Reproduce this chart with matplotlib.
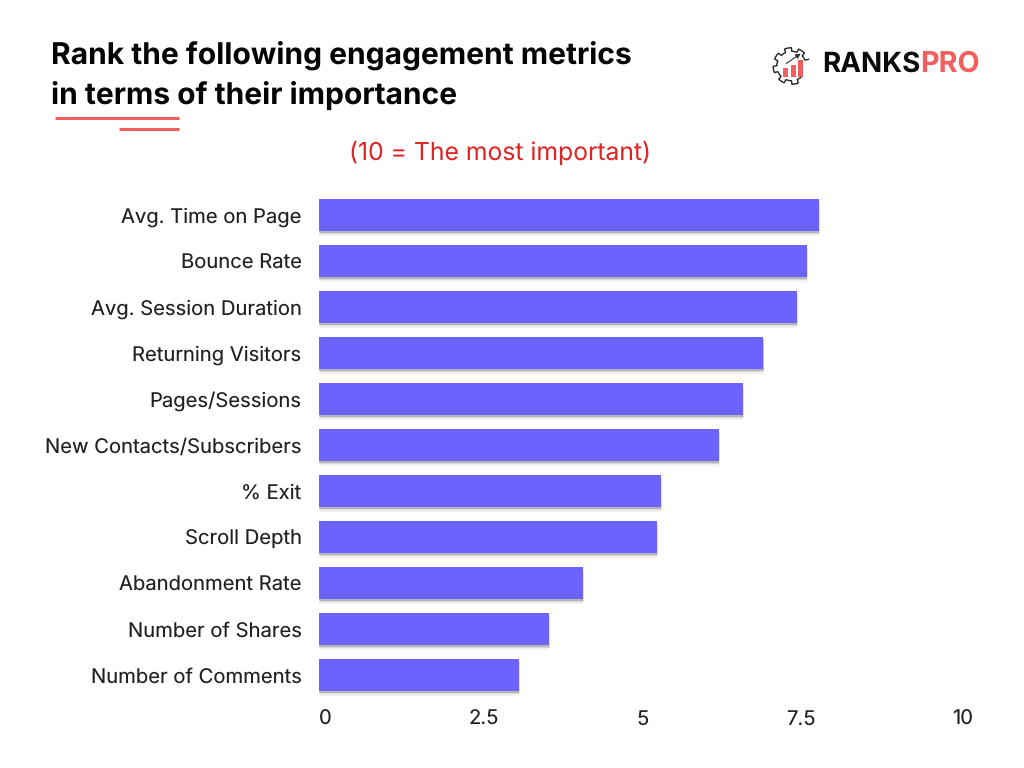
import matplotlib
matplotlib.use('Agg')
import matplotlib.pyplot as plt
import matplotlib.patheffects as pe
from matplotlib.patches import Rectangle
from matplotlib.transforms import ScaledTranslation
import numpy as np

plt.rcParams['font.family'] = ['Inter', 'DejaVu Sans']
plt.rcParams['text.hinting'] = 'no_hinting'
plt.rcParams['text.hinting_factor'] = 1

# data
metrics = ['Avg. Time on Page', 'Bounce Rate', 'Avg. Session Duration', 'Returning Visitors',
           'Pages/Sessions', 'New Contacts/Subscribers', '% Exit', 'Scroll Depth',
           'Abandonment Rate', 'Number of Shares', 'Number of Comments']
scores = [7.81, 7.62, 7.47, 6.94, 6.62, 6.25, 5.34, 5.28, 4.12, 3.59, 3.12]
tick_values = [0, 2.5, 5, 7.5, 10]
tick_labels = ['0', '2.5', '5', '7.5', '10']

W, H = 1024, 768
bar_color = '#6C63FF'
red = '#F25F5F'
dark = '#212121'

fig = plt.figure(figsize=(W / 100, H / 100), dpi=100, facecolor='white')

# page level axes in pixels for the title block and logo
page = fig.add_axes([0, 0, 1, 1])
page.set_xlim(0, W)
page.set_ylim(H, 0)
page.axis('off')

page.text(51, 55, 'Rank the following engagement metrics', fontsize=21.6, fontweight='bold',
          color='#050505', va='center', ha='left')
page.text(51, 95, 'in terms of their importance', fontsize=21.6, fontweight='bold',
          color='#050505', va='center', ha='left')
page.plot([55, 179], [118, 118], color=red, lw=2.2, solid_capstyle='butt')
page.plot([119, 179], [129, 129], color=red, lw=2.2, solid_capstyle='butt')
page.text(500, 153, '(10 = The most important)', fontsize=17.8, color='#E02424',
          va='center', ha='center')

# logo
cx, cy, r = 791.5, 66, 16.5
angles = np.linspace(0.12 * np.pi, 1.72 * np.pi, 160)
rad = r + 1.8 * np.sign(np.sin(angles * 8))
page.plot(cx + rad * np.cos(angles), cy - rad * np.sin(angles), color='#222222', lw=1.0)
for x0, bar_top in [(783, 68), (790.5, 65), (798, 60)]:
    page.add_patch(Rectangle((x0, bar_top), 5, 77 - bar_top, color=red, lw=0))
page.annotate('', xy=(803, 52), xytext=(784, 65),
              arrowprops=dict(arrowstyle='-|>', color='#333333', lw=0.8, mutation_scale=7))
page.text(822, 64, 'RANKS', fontsize=20, fontweight='bold', color='#0B0B0B',
          va='center', ha='left')
page.text(920, 64, 'PRO', fontsize=20.7, fontweight='bold', color=red, va='center', ha='left')

# bar chart, axes box placed so 0 and 10 land on the reference pixels
left, right, top, bottom = 319, 959, 192, 698
ax = fig.add_axes([left / W, 1 - bottom / H, (right - left) / W, (bottom - top) / H])
ax.patch.set_alpha(0)
y = np.arange(len(metrics))
bars = ax.barh(y, scores, height=0.696, color=bar_color, linewidth=0)
for b in bars:
    b.set_path_effects([
        pe.SimplePatchShadow(offset=(0, -3.5), shadow_rgbFace='black', alpha=0.05),
        pe.SimplePatchShadow(offset=(0.7, -2.5), shadow_rgbFace='black', alpha=0.1),
        pe.SimplePatchShadow(offset=(0.3, -1.5), shadow_rgbFace='black', alpha=0.16),
        pe.Normal(),
    ])
ax.set_xlim(0, 10)
ax.set_ylim(len(metrics) - 0.5, -0.5)
ax.set_yticks(y, metrics)
ax.set_xticks(tick_values, tick_labels)
ax.tick_params(axis='both', length=0, labelsize=14.55, labelcolor=dark)
ax.tick_params(axis='y', pad=12.5)
ax.tick_params(axis='x', pad=8.5)
for s in ax.spines.values():
    s.set_visible(False)

# x labels sit a bit right of their ticks in the reference
for lab, dx in zip(ax.get_xticklabels(), [6, 5, 4, 2, 4]):
    lab.set_transform(lab.get_transform() + ScaledTranslation(dx / 100, 0, fig.dpi_scale_trans))

fig.savefig('out.png', dpi=100)
plt.close()
